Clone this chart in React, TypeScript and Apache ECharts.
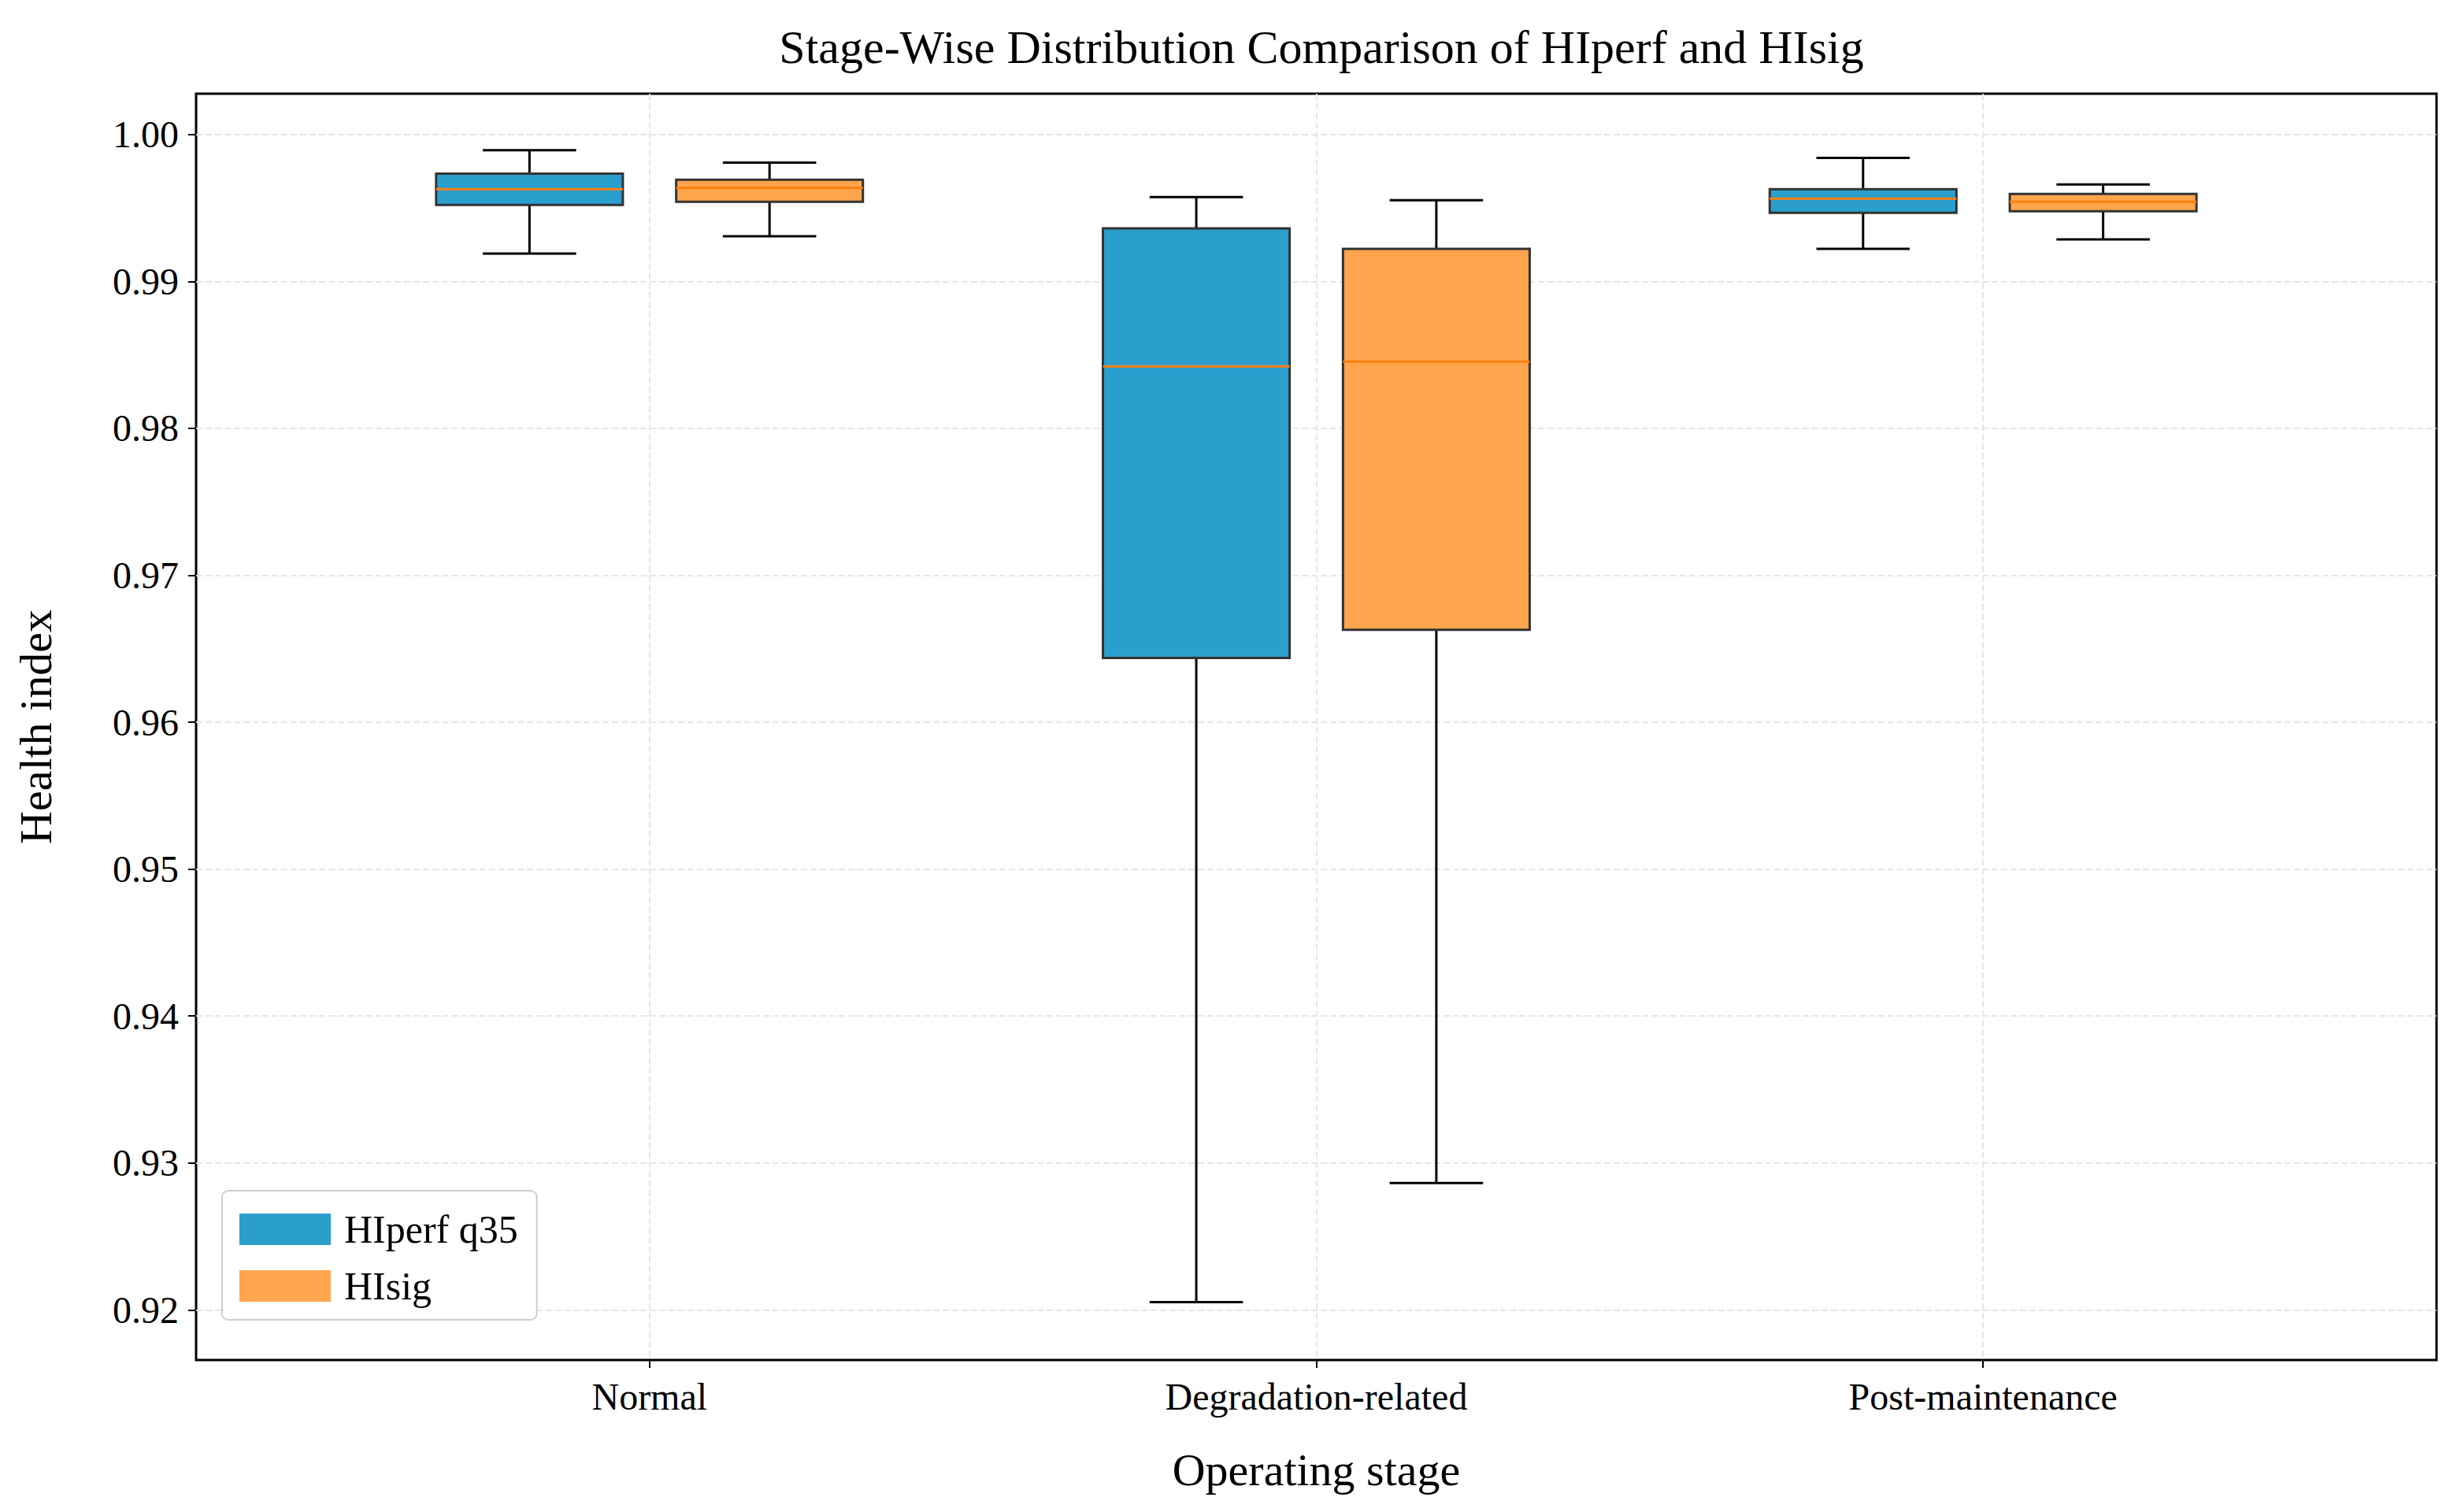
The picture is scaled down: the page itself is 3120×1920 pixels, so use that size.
import React, { useEffect, useRef } from "react";
import * as echarts from "echarts";

const stages = ["Normal", "Degradation-related", "Post-maintenance"];
// [whiskerLow, Q1, median, Q3, whiskerHigh]
const hiperf = [
  [0.99189, 0.9952, 0.99627, 0.99733, 0.99893],
  [0.92053, 0.96437, 0.98421, 0.9936, 0.99573],
  [0.99221, 0.99467, 0.99563, 0.99627, 0.9984],
];
const hisig = [
  [0.99307, 0.99541, 0.99637, 0.99691, 0.99808],
  [0.92864, 0.96629, 0.98453, 0.99221, 0.99552],
  [0.99285, 0.99477, 0.99541, 0.99595, 0.99659],
];
const yTicks = [0.92, 0.93, 0.94, 0.95, 0.96, 0.97, 0.98, 0.99, 1.0];

const FONT = "'Liberation Serif', 'Times New Roman', serif";
const OFFSET = 0.18;
const BOX_W = 0.28;

const makeRender = (fill: string) => (params: any, api: any) => {
  const x = api.value(0);
  const vals = [1, 2, 3, 4, 5].map((i) => api.value(i));
  const p = (xv: number, yv: number) => api.coord([xv, yv]);
  const hw = BOX_W / 2;
  const cw = BOX_W / 4;
  const lo = p(x, vals[0]);
  const q1 = p(x - hw, vals[1]);
  const q3 = p(x + hw, vals[3]);
  const hi = p(x, vals[4]);
  const med1 = p(x - hw, vals[2]);
  const med2 = p(x + hw, vals[2]);
  const line = { stroke: "#000", lineWidth: 3 };
  return {
    type: "group",
    children: [
      { type: "line", shape: { x1: lo[0], y1: lo[1], x2: lo[0], y2: q1[1] }, style: line },
      { type: "line", shape: { x1: hi[0], y1: hi[1], x2: hi[0], y2: q3[1] }, style: line },
      { type: "line", shape: { x1: p(x - cw, 0)[0], y1: lo[1], x2: p(x + cw, 0)[0], y2: lo[1] }, style: line },
      { type: "line", shape: { x1: p(x - cw, 0)[0], y1: hi[1], x2: p(x + cw, 0)[0], y2: hi[1] }, style: line },
      {
        type: "rect",
        shape: { x: q1[0], y: q3[1], width: q3[0] - q1[0], height: q1[1] - q3[1] },
        style: { fill, stroke: "#333", lineWidth: 3 },
      },
      { type: "line", shape: { x1: med1[0], y1: med1[1], x2: med2[0], y2: med2[1] }, style: { stroke: "#ff7f0e", lineWidth: 3 } },
    ],
  };
};

const App: React.FC = () => {
  const ref = useRef<HTMLDivElement>(null);

  useEffect(() => {
    if (!ref.current) return;
    const chart = echarts.init(ref.current, null, { renderer: "svg" });
    const blue = "#2a9fcd";
    const orange = "#ffa54d";
    chart.setOption({
      animation: false,
      textStyle: { fontFamily: FONT },
      graphic: [
        {
          type: "text",
          x: 1670,
          y: 22,
          style: { text: "Stage-Wise Distribution Comparison of HIperf and HIsig", font: `60px ${FONT}`, fill: "#000", textAlign: "center" },
        },
      ],
      grid: { left: 237, right: 18, top: 111, bottom: 185, show: true, borderColor: "#000", borderWidth: 3 },
      legend: {
        left: 274,
        top: 1504,
        orient: "vertical",
        icon: "rect",
        itemWidth: 116,
        itemHeight: 40,
        itemGap: 22,
        padding: [24, 24, 18, 22],
        backgroundColor: "#fff",
        borderColor: "#ccc",
        borderWidth: 2,
        borderRadius: 8,
        textStyle: { fontSize: 50, fontFamily: FONT, color: "#000", padding: [0, 0, 0, 12] },
        data: [
          { name: "HIperf q35", itemStyle: { color: blue } },
          { name: "HIsig", itemStyle: { color: orange } },
        ],
      },
      xAxis: {
        type: "value",
        min: 0.32,
        max: 3.68,
        name: "Operating stage",
        nameLocation: "middle",
        nameGap: 110,
        nameTextStyle: { fontSize: 58, color: "#000", fontFamily: FONT },
        axisLine: { show: false },
        axisTick: { show: true, customValues: [1, 2, 3], length: 10, lineStyle: { color: "#000", width: 2 } },
        axisLabel: {
          customValues: [1, 2, 3],
          fontSize: 48,
          color: "#000",
          margin: 22,
          formatter: (v: number) => stages[Math.round(v) - 1] ?? "",
        },
        splitLine: { show: true, lineStyle: { color: "#e6e6e6", type: "dashed", width: 2 } },
      },
      yAxis: {
        type: "value",
        min: 0.91659,
        max: 1.00277,
        name: "Health index",
        nameLocation: "middle",
        nameGap: 175,
        nameTextStyle: { fontSize: 58, color: "#000", fontFamily: FONT },
        axisLine: { show: false },
        axisTick: { show: true, customValues: yTicks, length: 10, lineStyle: { color: "#000", width: 2 } },
        axisLabel: { customValues: yTicks, fontSize: 48, color: "#000", margin: 22, formatter: (v: number) => v.toFixed(2) },
        splitLine: { show: true, lineStyle: { color: "#e6e6e6", type: "dashed", width: 2 } },
      },
      series: [
        {
          name: "HIperf q35",
          type: "custom",
          itemStyle: { color: blue },
          renderItem: makeRender(blue),
          encode: { x: 0, y: [1, 2, 3, 4, 5] },
          data: hiperf.map((v, i) => [i + 1 - OFFSET, ...v]),
        },
        {
          name: "HIsig",
          type: "custom",
          itemStyle: { color: orange },
          renderItem: makeRender(orange),
          encode: { x: 0, y: [1, 2, 3, 4, 5] },
          data: hisig.map((v, i) => [i + 1 + OFFSET, ...v]),
        },
      ],
    });
    return () => chart.dispose();
  }, []);

  return <div ref={ref} style={{ width: 3104, height: 1904 }} />;
};

export default App;
